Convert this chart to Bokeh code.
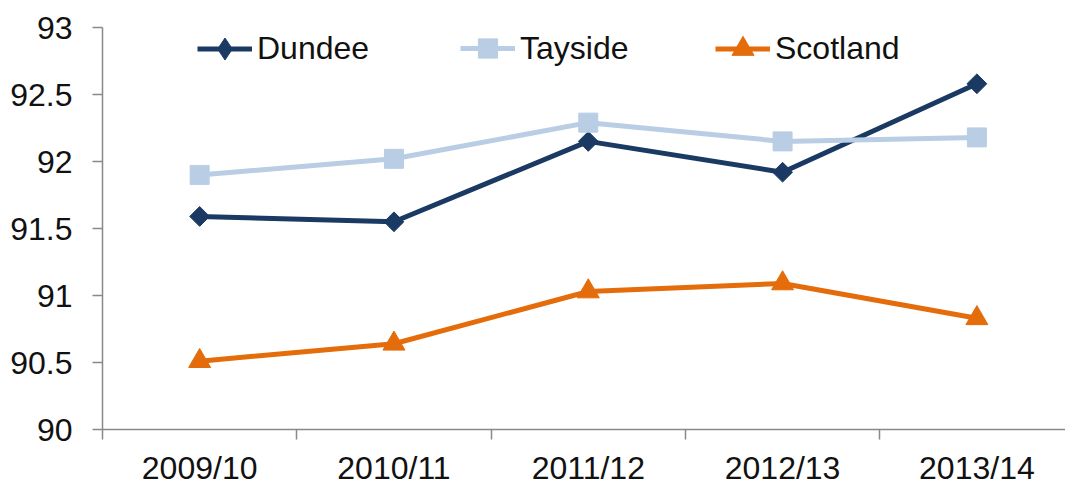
from bokeh.plotting import figure
from bokeh.models import Range1d, FixedTicker, Legend, LegendItem
from bokeh.embed import file_html
from bokeh.resources import INLINE

years = ["2009/10", "2010/11", "2011/12", "2012/13", "2013/14"]
dundee = [91.59, 91.55, 92.15, 91.92, 92.58]
tayside = [91.90, 92.02, 92.29, 92.15, 92.18]
scotland = [90.51, 90.64, 91.03, 91.09, 90.83]
y_ticks = [90, 90.5, 91, 91.5, 92, 92.5, 93]
y_labels = ["90", "90.5", "91", "91.5", "92", "92.5", "93"]

FONT = "Liberation Sans"
FSIZE = "32px"
AXIS_COLOR = "#898989"

xs = list(range(len(years)))

p = figure(width=1065, height=488, output_backend="svg", toolbar_location=None,
           x_range=Range1d(-0.5, 4.456), y_range=Range1d(90, 93),
           min_border_left=102, min_border_right=0, min_border_top=27, min_border_bottom=56)
p.outline_line_color = None
p.xgrid.grid_line_color = None
p.ygrid.grid_line_color = None

# y axis
p.yaxis.ticker = FixedTicker(ticks=y_ticks)
p.yaxis.major_label_overrides = {t: l for t, l in zip(y_ticks, y_labels)}
p.yaxis.axis_line_color = AXIS_COLOR
p.yaxis.axis_line_width = 1.5
p.yaxis.major_tick_line_color = AXIS_COLOR
p.yaxis.major_tick_line_width = 1.5
p.yaxis.major_tick_out = 10
p.yaxis.major_tick_in = 0
p.yaxis.minor_tick_line_color = None
p.yaxis.minor_tick_out = 0
p.yaxis.minor_tick_in = 0
p.yaxis.major_label_standoff = 20
p.yaxis.major_label_text_font = FONT
p.yaxis.major_label_text_font_size = FSIZE
p.yaxis.major_label_text_color = "#111111"

# x axis: labels at category centres, tick marks at boundaries
p.xaxis.ticker = FixedTicker(ticks=xs, minor_ticks=[i - 0.5 for i in range(len(years) + 1)])
p.xaxis.major_label_overrides = {i: y for i, y in zip(xs, years)}
p.xaxis.axis_line_color = AXIS_COLOR
p.xaxis.axis_line_width = 1.5
p.xaxis.major_tick_line_color = None
p.xaxis.major_tick_out = 0
p.xaxis.major_tick_in = 0
p.xaxis.minor_tick_line_color = AXIS_COLOR
p.xaxis.minor_tick_line_width = 1.5
p.xaxis.minor_tick_out = 10
p.xaxis.minor_tick_in = 0
p.xaxis.major_label_standoff = 10
p.xaxis.major_label_text_font = FONT
p.xaxis.major_label_text_font_size = FSIZE
p.xaxis.major_label_text_color = "#111111"

# name, values, colour, plot marker, plot size, angle, legend marker, legend marker size
series = [
    ("Dundee", dundee, "#1B3A63", "square", 14, 0.785398, "diamond", 22),
    ("Tayside", tayside, "#B9CDE5", "square", 19, 0.0, "square", 19),
    ("Scotland", scotland, "#E46C0A", "triangle", 22, 0.0, "triangle", 22),
]

legend_x = [95, 358, 613]
for (name, vals, col, mk, sz, ang, lmk, lsz), lx in zip(series, legend_x):
    ln = p.line(xs, vals, line_color=col, line_width=5)
    sc = p.scatter(xs, vals, marker=mk, size=sz, angle=ang,
                   fill_color=col, line_color=col)
    # legend-only marker, placed outside the visible ranges
    lg = p.scatter([-50], [0], marker=lmk, size=lsz, fill_color=col, line_color=col)
    gh = int(round(lsz / 0.4))
    leg = Legend(items=[LegendItem(label=name, renderers=[ln, lg])],
                 location=(lx, 432 - 51 - gh / 2), orientation="horizontal",
                 glyph_width=55, glyph_height=gh, label_standoff=5,
                 label_height=20,
                 padding=0, margin=0, border_line_color=None,
                 background_fill_alpha=0,
                 label_text_font=FONT, label_text_font_size=FSIZE,
                 label_text_color="#111111")
    p.add_layout(leg)

open("out.html", "w").write(file_html(p, INLINE))
